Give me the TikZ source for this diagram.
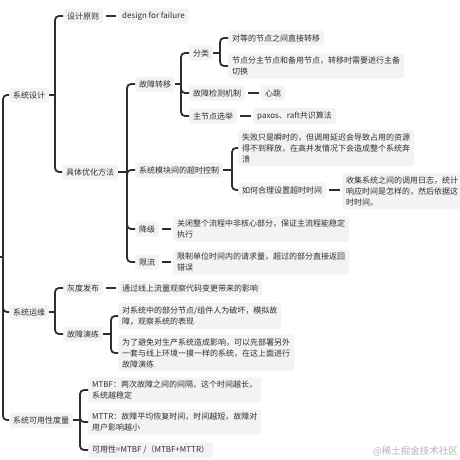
\documentclass[tikz,border=0pt]{standalone}
\usepackage{fontspec}
\setmainfont{Noto Sans CJK SC}
\usetikzlibrary{calc}
\definecolor{linec}{HTML}{2E2E2E}
\definecolor{boxgray}{HTML}{F3F3F3}
\definecolor{textc}{HTML}{2E2E2E}
\definecolor{wmc}{HTML}{B3B3B3}
\begin{document}
\begin{tikzpicture}[x=1pt,y=-1pt,
  box/.style={fill=boxgray, rounded corners=3pt, inner xsep=4pt, inner ysep=3.5pt,
    anchor=west, align=left, text=textc, font=\fontsize{8}{11}\selectfont, minimum height=15pt},
  conn/.style={draw=linec, line width=1.8pt, rounded corners=4pt},
  single/.style={draw=linec, line width=1.8pt, shorten <=3pt, shorten >=2pt}]
\useasboundingbox (0,0) rectangle (460,460);
\clip (0,0) rectangle (460,460);

% level 1
\node[box] (n1) at (9,95) {系统设计};
\node[box] (n2) at (9,312) {系统运维};
\node[box] (n3) at (9,420) {系统可用性度量};
% system design
\node[box] (a1) at (63,16) {设计原则};
\node[box] (a2) at (118,16) {design for failure};
\node[box] (a3) at (62,172) {具体优化方法};
\node[box] (b1) at (135,84) {故障转移};
\node[box] (b2) at (135,170) {系统模块间的超时控制};
\node[box] (b3) at (135,229) {降级};
\node[box] (b4) at (135,262) {限流};
\node[box] (c1) at (189,53) {分类};
\node[box] (c2) at (189,93) {故障检测机制};
\node[box] (c3) at (189,116) {主节点选举};
\node[box] (d1) at (228,38) {对等的节点之间直接转移};
\node[box] (d2) at (228,66) {节点分主节点和备用节点，转移时需要进行主备\\切换};
\node[box] (e1) at (261,93) {心跳};
\node[box] (e2) at (253,116) {paxos、raft共识算法};
\node[box] (f1) at (238,148) {失败只是瞬时的，但调用延迟会导致占用的资源\\得不到释放，在高并发情况下会造成整个系统奔\\溃};
\node[box] (f2) at (238,190) {如何合理设置超时时间};
\node[box, text width=126pt] (g1) at (342,191) {收集系统之间的调用日志，统计\\响应时间是怎样的，然后依据这\\时时间。};
\node[box] (h1) at (173,229) {关闭整个流程中非核心部分，保证主流程能稳定\\执行};
\node[box] (h2) at (173,262) {限制单位时间内的请求量，超过的部分直接返回\\错误};
% operations
\node[box] (i1) at (63,288) {灰度发布};
\node[box] (i2) at (63,334) {故障演练};
\node[box] (j1) at (118,288) {通过线上流量观察代码变更带来的影响};
\node[box] (k1) at (118,316) {对系统中的部分节点/组件人为破坏，模拟故\\障，观察系统的表现};
\node[box] (k2) at (118,353) {为了避免对生产系统造成影响，可以先部署另外\\一套与线上环境一摸一样的系统，在这上面进行\\故障演练};
% availability
\node[box] (m1) at (88,390) {MTBF：两次故障之间的间隔，这个时间越长，\\系统越稳定};
\node[box] (m2) at (88,422) {MTTR：故障平均恢复时间，时间越短，故障对\\用户影响越小};
\node[box] (m3) at (88,450) {可用性=MTBF /（MTBF+MTTR）};

\node[anchor=east, text=wmc, font=\fontsize{9.5}{11}\selectfont, inner sep=0pt] (wm) at (458,451) {@稀土掘金技术社区};

% bracket x positions
\coordinate (X0) at (3,0);
\coordinate (X1) at (55,0);
\coordinate (X2) at (127,0);
\coordinate (X3) at (181,0);
\coordinate (X4) at (220,0);
\coordinate (X5) at (232,0);
\coordinate (X6) at (111,0);
\coordinate (X7) at (80,0);
\coordinate (root) at (-2,257);

% root
\draw[conn] (root) -- (root -| X0) coordinate (J0);
\foreach \c in {n1,n2,n3} \draw[conn] (J0) |- (\c.west);
% 系统设计
\draw[conn] (n1.east) -- (n1.east -| X1) coordinate (J1);
\foreach \c in {a1,a3} \draw[conn] (J1) |- (\c.west);
\draw[single] (a1.east) -- (a1.east -| a2.west);
% 具体优化方法
\draw[conn] (a3.east) -- (a3.east -| X2) coordinate (J2);
\foreach \c in {b1,b2,b3,b4} \draw[conn] (J2) |- (\c.west);
% 故障转移
\draw[conn] (b1.east) -- (b1.east -| X3) coordinate (J3);
\foreach \c in {c1,c2,c3} \draw[conn] (J3) |- (\c.west);
% 分类
\draw[conn] (c1.east) -- (c1.east -| X4) coordinate (J4);
\foreach \c in {d1,d2} \draw[conn] (J4) |- (\c.west);
\draw[single] (c2.east) -- (c2.east -| e1.west);
\draw[single] (c3.east) -- (c3.east -| e2.west);
% 超时控制
\draw[conn] (b2.east) -- (b2.east -| X5) coordinate (J5);
\foreach \c in {f1,f2} \draw[conn] (J5) |- (\c.west);
\draw[single] (f2.east) -- (f2.east -| g1.west);
\draw[single] (b3.east) -- (b3.east -| h1.west);
\draw[single] (b4.east) -- (b4.east -| h2.west);
% 系统运维
\draw[conn] (n2.east) -- (n2.east -| X1) coordinate (J6);
\foreach \c in {i1,i2} \draw[conn] (J6) |- (\c.west);
\draw[single] (i1.east) -- (i1.east -| j1.west);
\draw[conn] (i2.east) -- (i2.east -| X6) coordinate (J7);
\foreach \c in {k1,k2} \draw[conn] (J7) |- (\c.west);
% 可用性
\draw[conn] (n3.east) -- (n3.east -| X7) coordinate (J8);
\foreach \c in {m1,m2,m3} \draw[conn] (J8) |- (\c.west);
\end{tikzpicture}
\end{document}
